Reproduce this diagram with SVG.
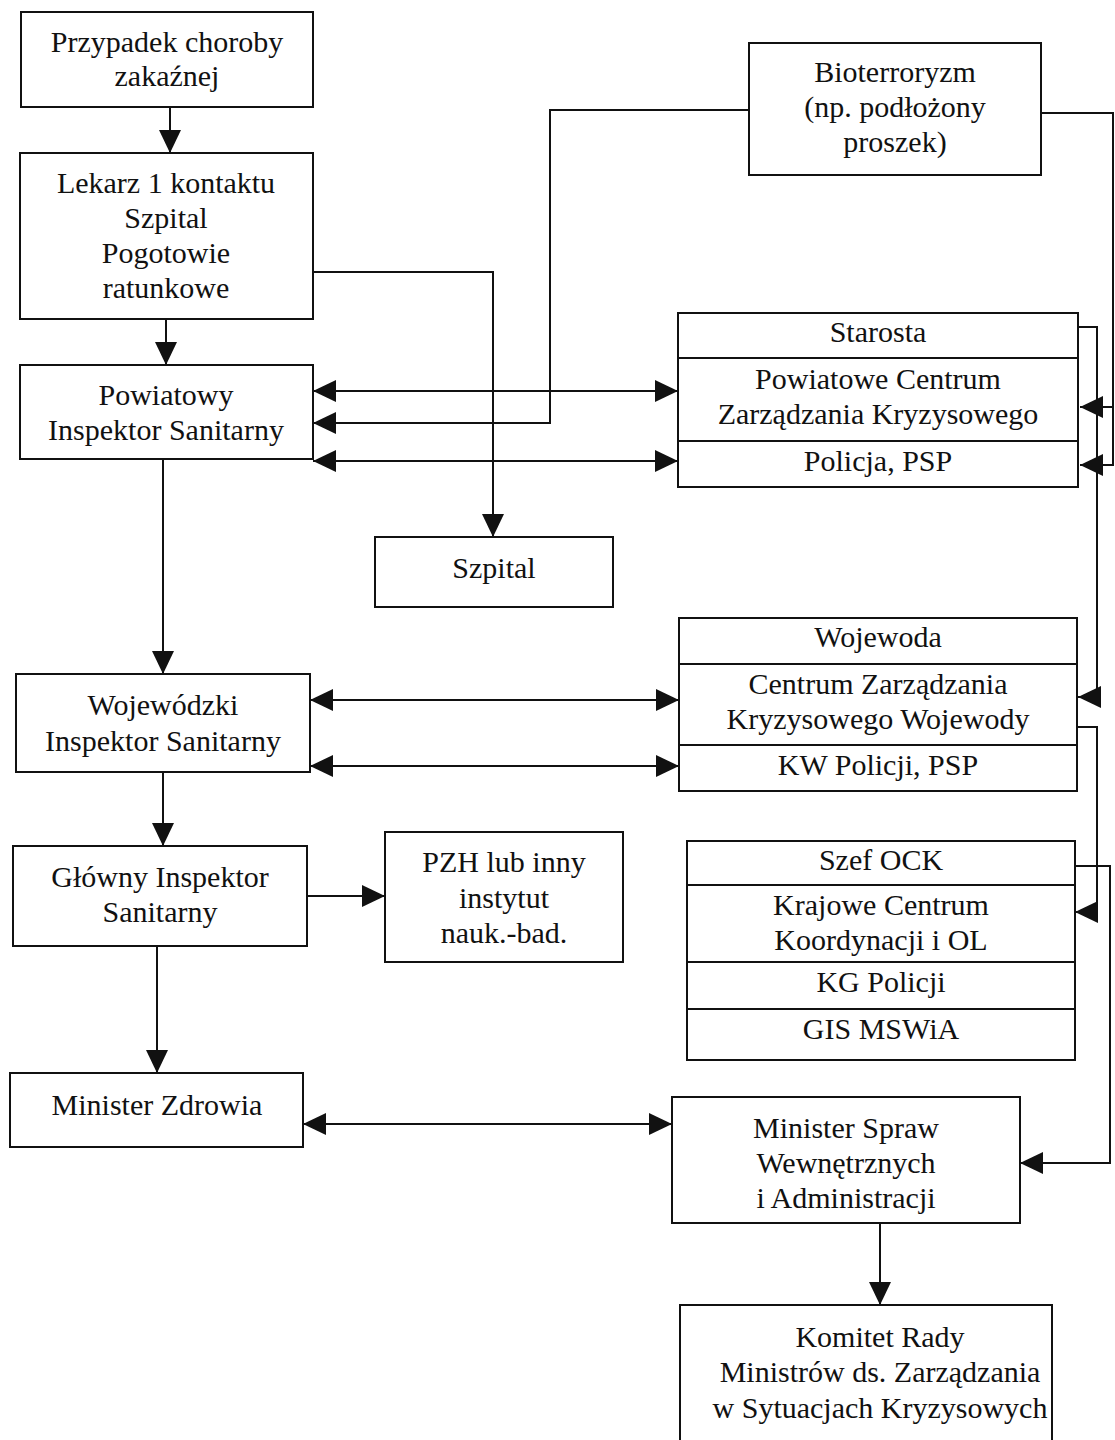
<svg xmlns="http://www.w3.org/2000/svg" width="1115" height="1440" viewBox="0 0 1115 1440">
<style>
.n { fill: #fff; stroke: #111; stroke-width: 2; }
.sep { fill: none; stroke: #111; stroke-width: 2; }
text { font-family: "Liberation Serif", "Times New Roman", serif; font-size: 30px; fill: #111; text-anchor: middle; }
.c { fill: none; stroke: #111; stroke-width: 2; }
</style>
<defs>
<marker id="ah" markerUnits="userSpaceOnUse" markerWidth="23" markerHeight="22" refX="23" refY="11" orient="auto-start-reverse">
<path d="M0,0 L23,11 L0,22 z" fill="#111"/>
</marker>
</defs>
<rect x="0" y="0" width="1115" height="1440" style="fill:#fff;stroke:none"/>
<g id="connectors">
<path class="c" d="M170,107 V153" marker-end="url(#ah)"/>
<path class="c" d="M166,319 V365" marker-end="url(#ah)"/>
<path class="c" d="M313,272 H493 V537" marker-end="url(#ah)"/>
<path class="c" d="M749,110 H550 V423 H313" marker-end="url(#ah)"/>
<path class="c" d="M1041,113 H1113 V465 H1080" marker-end="url(#ah)"/>
<path class="c" d="M1113,407 H1080" marker-end="url(#ah)"/>
<path class="c" d="M313,391 H678" marker-start="url(#ah)" marker-end="url(#ah)"/>
<path class="c" d="M313,461 H678" marker-start="url(#ah)" marker-end="url(#ah)"/>
<path class="c" d="M1078,327 H1097 V697 H1078" marker-end="url(#ah)"/>
<path class="c" d="M163,459 V674" marker-end="url(#ah)"/>
<path class="c" d="M310,700 H679" marker-start="url(#ah)" marker-end="url(#ah)"/>
<path class="c" d="M310,766 H679" marker-start="url(#ah)" marker-end="url(#ah)"/>
<path class="c" d="M1077,727 H1097 V912 H1075" marker-end="url(#ah)"/>
<path class="c" d="M163,772 V846" marker-end="url(#ah)"/>
<path class="c" d="M307,896 H385" marker-end="url(#ah)"/>
<path class="c" d="M1075,866 H1110 V1163 H1020" marker-end="url(#ah)"/>
<path class="c" d="M157,946 V1073" marker-end="url(#ah)"/>
<path class="c" d="M303,1124 H672" marker-start="url(#ah)" marker-end="url(#ah)"/>
<path class="c" d="M880,1223 V1305" marker-end="url(#ah)"/>
</g>
<g id="przypadek">
<rect class="n" x="21" y="12" width="292" height="95"/>
<text x="167" y="52">Przypadek choroby</text>
<text x="167" y="86">zakaźnej</text>
</g>
<g id="lekarz">
<rect class="n" x="20" y="153" width="293" height="166"/>
<text x="166" y="193">Lekarz 1 kontaktu</text>
<text x="166" y="228">Szpital</text>
<text x="166" y="263">Pogotowie</text>
<text x="166" y="298">ratunkowe</text>
</g>
<g id="powiatowy">
<rect class="n" x="20" y="365" width="293" height="94"/>
<text x="166" y="405">Powiatowy</text>
<text x="166" y="440">Inspektor Sanitarny</text>
</g>
<g id="szpital">
<rect class="n" x="375" y="537" width="238" height="70"/>
<text x="494" y="578">Szpital</text>
</g>
<g id="bioterroryzm">
<rect class="n" x="749" y="43" width="292" height="132"/>
<text x="895" y="82">Bioterroryzm</text>
<text x="895" y="117">(np. podłożony</text>
<text x="895" y="152">proszek)</text>
</g>
<g id="starosta">
<rect class="n" x="678" y="313" width="400" height="174"/>
<path class="sep" d="M678,358 H1078 M678,441 H1078"/>
<text x="878" y="342">Starosta</text>
<text x="878" y="389">Powiatowe Centrum</text>
<text x="878" y="424">Zarządzania Kryzysowego</text>
<text x="878" y="471">Policja, PSP</text>
</g>
<g id="wojewoda">
<rect class="n" x="679" y="618" width="398" height="173"/>
<path class="sep" d="M679,664 H1077 M679,745 H1077"/>
<text x="878" y="647">Wojewoda</text>
<text x="878" y="694">Centrum Zarządzania</text>
<text x="878" y="729">Kryzysowego Wojewody</text>
<text x="878" y="775">KW Policji, PSP</text>
</g>
<g id="wojewodzki">
<rect class="n" x="16" y="674" width="294" height="98"/>
<text x="163" y="715">Wojewódzki</text>
<text x="163" y="751">Inspektor Sanitarny</text>
</g>
<g id="glowny">
<rect class="n" x="13" y="846" width="294" height="100"/>
<text x="160" y="887">Główny Inspektor</text>
<text x="160" y="922">Sanitarny</text>
</g>
<g id="pzh">
<rect class="n" x="385" y="832" width="238" height="130"/>
<text x="504" y="872">PZH lub inny</text>
<text x="504" y="908">instytut</text>
<text x="504" y="943">nauk.-bad.</text>
</g>
<g id="szefock">
<rect class="n" x="687" y="841" width="388" height="219"/>
<path class="sep" d="M687,885 H1075 M687,962 H1075 M687,1009 H1075"/>
<text x="881" y="870">Szef OCK</text>
<text x="881" y="915">Krajowe Centrum</text>
<text x="881" y="950">Koordynacji i OL</text>
<text x="881" y="992">KG Policji</text>
<text x="881" y="1039">GIS MSWiA</text>
</g>
<g id="ministerzdrowia">
<rect class="n" x="10" y="1073" width="293" height="74"/>
<text x="157" y="1115">Minister Zdrowia</text>
</g>
<g id="mswia">
<rect class="n" x="672" y="1097" width="348" height="126"/>
<text x="846" y="1138">Minister Spraw</text>
<text x="846" y="1173">Wewnętrznych</text>
<text x="846" y="1208">i Administracji</text>
</g>
<g id="komitet">
<rect class="n" x="680" y="1305" width="372" height="145"/>
<text x="880" y="1347">Komitet Rady</text>
<text x="880" y="1382">Ministrów ds. Zarządzania</text>
<text x="880" y="1418">w Sytuacjach Kryzysowych</text>
</g>
</svg>
